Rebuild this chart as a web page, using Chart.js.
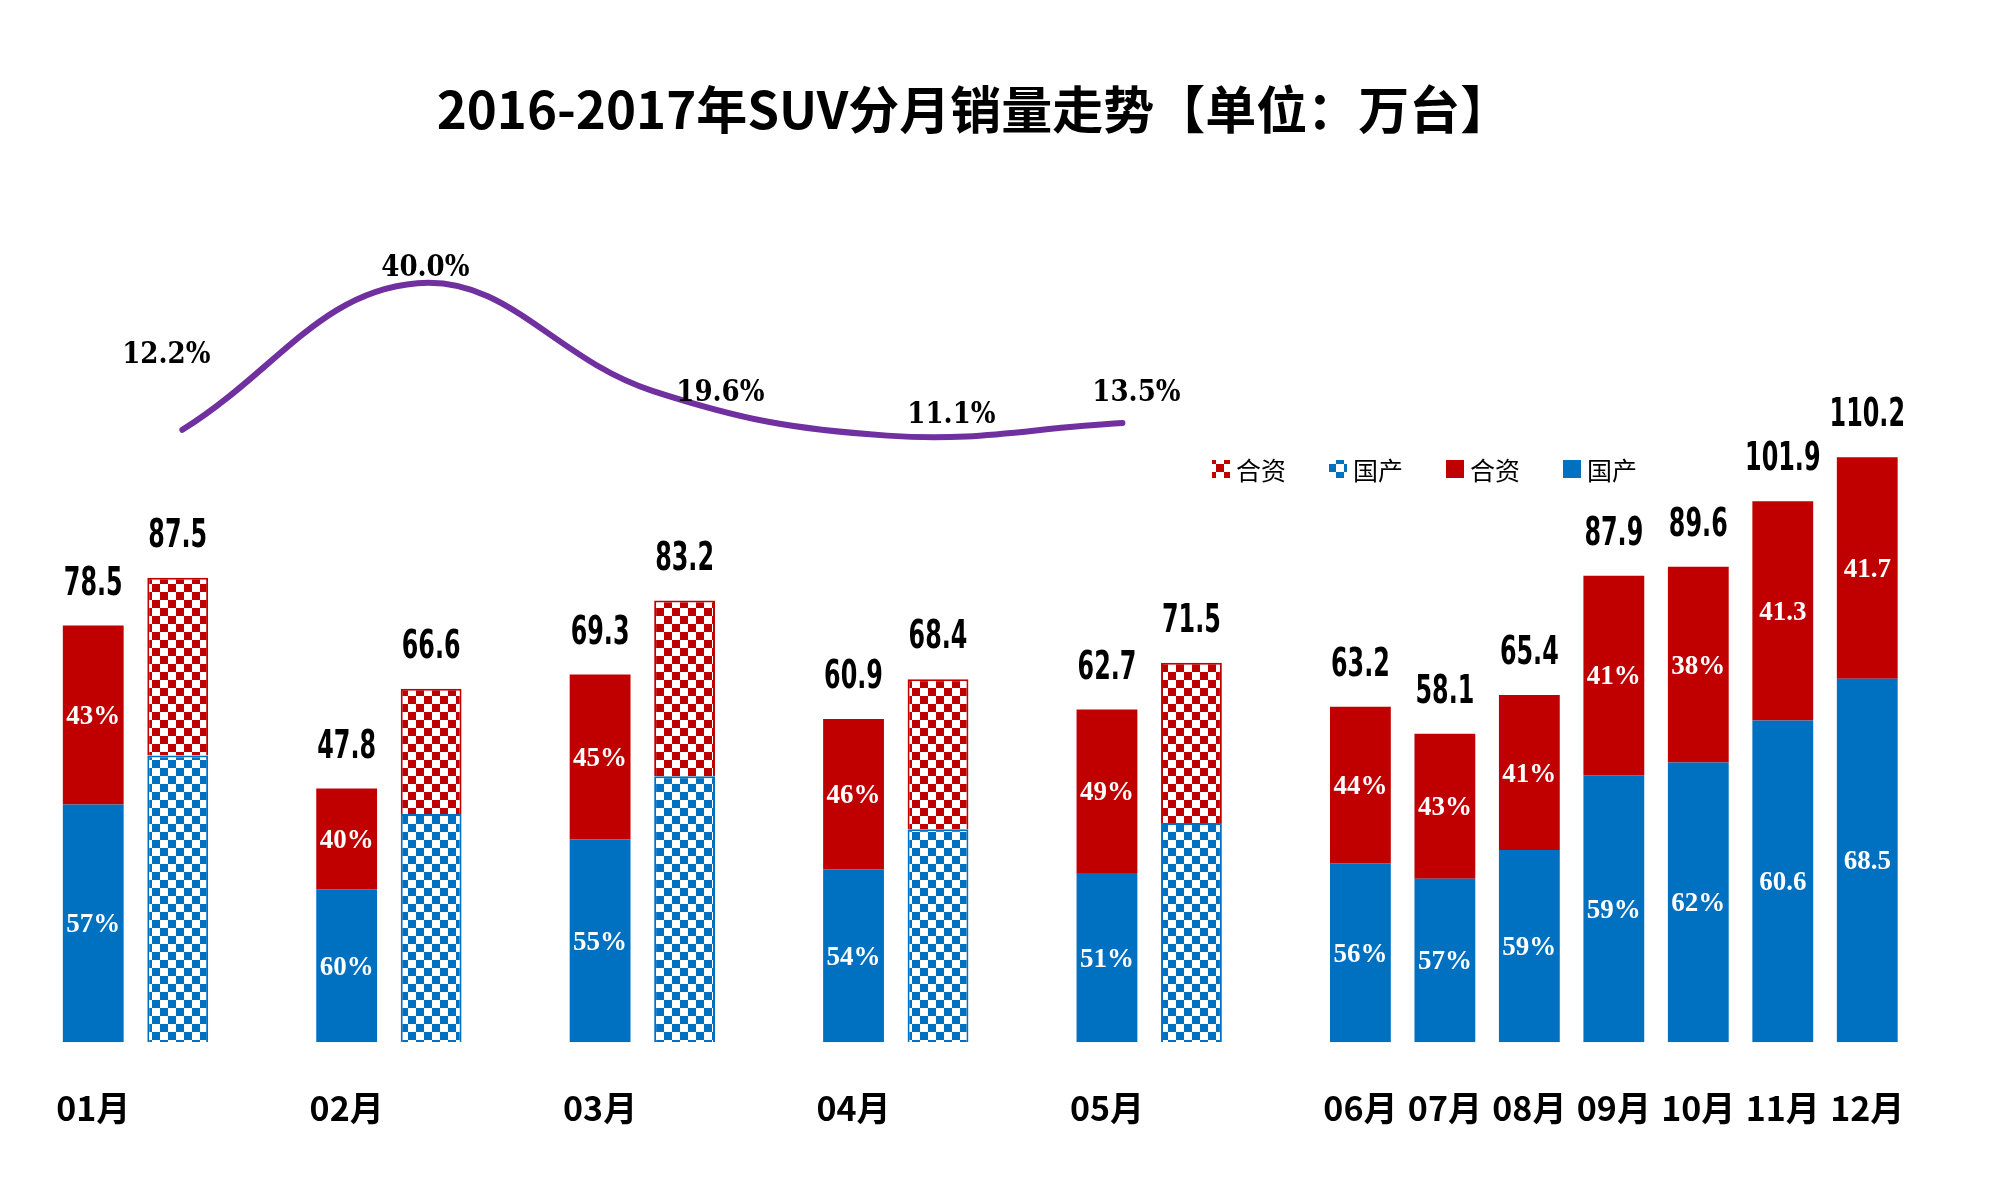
<!DOCTYPE html>
<html>
<head>
<meta charset="utf-8">
<script src="https://cdn.jsdelivr.net/npm/chart.js@4.4.1/dist/chart.umd.min.js"></script>
<style>
  html, body { margin: 0; padding: 0; background: #fff; }
  #wrap { width: 2000px; height: 1197px; position: relative; }
</style>
</head>
<body>
<div id="wrap"><canvas id="suvChart"></canvas></div>
<script>
// sales in 10k units
const months = ['01月', '02月', '03月', '04月', '05月', '06月', '07月', '08月', '09月', '10月', '11月', '12月'];
const domestic2016 = [44.8, 28.8, 38.2, 32.6, 31.9, 33.7, 30.8, 36.2, 50.3, 52.7, 60.6, 68.5];
const joint2016 = [33.7, 19.0, 31.1, 28.3, 30.8, 29.5, 27.3, 29.2, 37.6, 36.9, 41.3, 41.7];
const domestic2017 = [54.0, 43.0, 50.1, 40.1, 41.3];
const joint2017 = [33.5, 23.6, 33.1, 28.3, 30.2];
const domesticLabels2016 = ['57%', '60%', '55%', '54%', '51%', '56%', '57%', '59%', '59%', '62%', '60.6', '68.5'];
const jointLabels2016 = ['43%', '40%', '45%', '46%', '49%', '44%', '43%', '41%', '41%', '38%', '41.3', '41.7'];
const growth2017 = [12.2, 40.0, 19.6, 11.1, 13.5];
const growthLabels = ['12.2%', '40.0%', '19.6%', '11.1%', '13.5%'];

const BLUE = '#0070C0';
const RED = '#C00000';
const PURPLE = '#7030A0';

// months with a 2017 bar get two slots plus an empty gap slot
const slots = [];
months.forEach((m, i) => {
  slots.push({ month: i, year: 2016 });
  if (i < domestic2017.length) {
    slots.push({ month: i, year: 2017 });
    slots.push(null);
  }
});
const labels = slots.map(s => (s && s.year === 2016) ? months[s.month] : '');
const pick = (arr, year) => slots.map(s => (s && s.year === year) ? arr[s.month] : null);

const canvas = document.getElementById('suvChart');
const ctx = canvas.getContext('2d');

function checker(color) {
  const c = document.createElement('canvas');
  c.width = 16; c.height = 16;
  const g = c.getContext('2d');
  g.fillStyle = '#fff';
  g.fillRect(0, 0, 16, 16);
  g.fillStyle = color;
  g.fillRect(0, 0, 8, 8);
  g.fillRect(8, 8, 8, 8);
  return ctx.createPattern(c, 'repeat');
}
const blueCheck = checker(BLUE);
const redCheck = checker(RED);

const labelPlugin = {
  id: 'suvLabels',
  afterDatasetsDraw(chart, args, opts) {
    const c = chart.ctx;
    c.save();

    // title
    c.fillStyle = '#000';
    c.textAlign = 'center';
    c.textBaseline = 'middle';
    c.font = 'bold 51px "Noto Sans CJK SC"';
    c.fillText('2016-2017年SUV分月销量走势【单位：万台】', 974, 110);

    // totals above bars
    slots.forEach((s, idx) => {
      if (!s) return;
      const top = chart.getDatasetMeta(s.year === 2016 ? 1 : 3).data[idx];
      const total = s.year === 2016
        ? domestic2016[s.month] + joint2016[s.month]
        : domestic2017[s.month] + joint2017[s.month];
      c.save();
      c.translate(top.x, top.y - 41);
      c.scale(0.68, 1);
      c.font = 'bold 39px "DejaVu Sans Condensed", "DejaVu Sans"';
      c.fillStyle = '#000';
      c.fillText(total.toFixed(1), 0, 0);
      c.restore();
    });

    // shares inside 2016 bars
    c.font = 'bold 27px "Liberation Serif"';
    c.fillStyle = '#fff';
    [[0, domesticLabels2016], [1, jointLabels2016]].forEach(([di, texts]) => {
      const meta = chart.getDatasetMeta(di);
      slots.forEach((s, idx) => {
        if (!s || s.year !== 2016) return;
        const el = meta.data[idx];
        c.fillText(texts[s.month], el.x, (el.y + el.base) / 2 + 2);
      });
    });

    // growth labels
    c.font = 'bold 29px "DejaVu Serif Condensed", "DejaVu Serif"';
    c.fillStyle = '#000';
    chart.getDatasetMeta(4).data.forEach((pt, i) => {
      const off = opts.lineOffsets[i];
      c.fillText(growthLabels[i], pt.x + off[0], pt.y + off[1]);
    });

    // legend
    c.textAlign = 'left';
    c.font = '25px "Noto Sans CJK SC"';
    [3, 2, 1, 0].forEach((di, k) => {
      const ds = chart.data.datasets[di];
      const bx = 1212 + 117 * k;
      c.fillStyle = ds.backgroundColor;
      c.fillRect(bx, 460, 18, 18);
      c.fillStyle = '#000';
      c.fillText(ds.label, bx + 24, 470);
    });

    c.restore();
  }
};

new Chart(ctx, {
  type: 'bar',
  data: {
    labels: labels,
    datasets: [
      { label: '国产', data: pick(domestic2016, 2016), backgroundColor: BLUE, stack: 'a', grouped: false },
      { label: '合资', data: pick(joint2016, 2016), backgroundColor: RED, stack: 'a', grouped: false },
      { label: '国产', data: pick(domestic2017, 2017), backgroundColor: blueCheck, borderColor: BLUE, borderWidth: 2, stack: 'a', grouped: false },
      { label: '合资', data: pick(joint2017, 2017), backgroundColor: redCheck, borderColor: RED, borderWidth: 2, stack: 'a', grouped: false },
      {
        type: 'line',
        label: '增长',
        data: growth2017.map((v, i) => ({ x: i, y: v })),
        xAxisID: 'x2',
        yAxisID: 'y2',
        borderColor: PURPLE,
        borderWidth: 6,
        borderCapStyle: 'round',
        pointRadius: 0,
        tension: 0.4,
        fill: false,
        order: -1
      }
    ]
  },
  options: {
    responsive: true,
    maintainAspectRatio: false,
    animation: false,
    barPercentage: 0.72,
    categoryPercentage: 1.0,
    layout: { padding: { top: 193, left: 51, right: 90.5, bottom: 24 } },
    plugins: {
      legend: { display: false },
      tooltip: { enabled: false },
      suvLabels: { lineOffsets: [[-16, -74], [8, -15], [68, 3], [64, -20], [14, -30]] }
    },
    scales: {
      x: {
        stacked: true,
        offset: true,
        grid: { display: false, drawTicks: false },
        border: { display: false },
        ticks: {
          autoSkip: false, maxRotation: 0, minRotation: 0, padding: 45, color: '#000',
          font: { family: '"Noto Sans CJK SC"', size: 34, weight: 'bold' }
        }
      },
      y: { stacked: true, display: false, min: 0, max: 160 },
      x2: { type: 'linear', display: false, offset: false, min: -0.559, max: 7.349 },
      y2: { type: 'linear', display: false, beginAtZero: false, min: -103.9, max: 57.1 }
    }
  },
  plugins: [labelPlugin]
});
</script>
</body>
</html>
